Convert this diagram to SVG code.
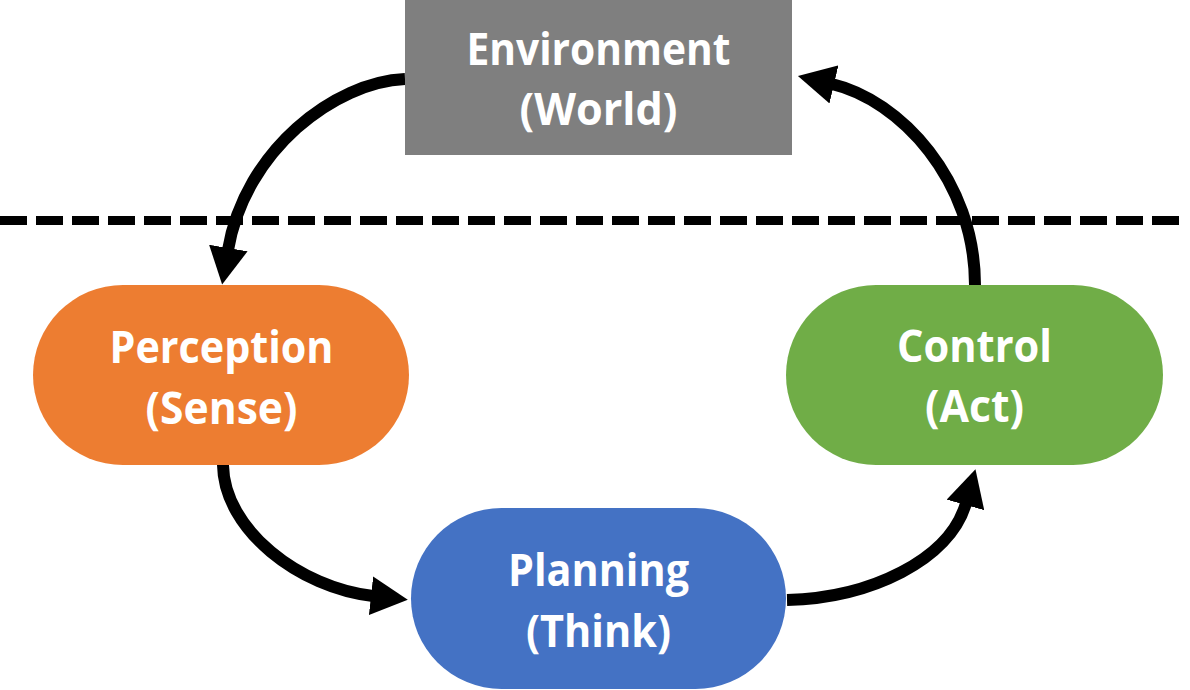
<svg xmlns="http://www.w3.org/2000/svg" width="1190" height="690" viewBox="0 0 1190 690">
<defs>
<style>
.lbl{font-family:"Open Sans","Liberation Sans",sans-serif;font-weight:700;font-size:44px;fill:#FFFFFF;text-anchor:middle}
.conn{fill:none;stroke:#000000;stroke-width:12;marker-end:url(#ah)}
</style>
<marker id="ah" markerUnits="userSpaceOnUse" viewBox="0 0 37 39" markerWidth="37" markerHeight="39" refX="2" refY="19.5" orient="auto">
<path d="M0,0 L37,19.5 L0,39 Z" fill="#000000"/>
</marker>
</defs>
<rect width="1190" height="690" fill="#FFFFFF"/>
<line id="divider" x1="0" y1="220.5" x2="1179" y2="220.5" stroke="#000000" stroke-width="9" stroke-dasharray="27 9"/>
<g id="connectors">
<path class="conn" d="M405,79 C335,82 245,150 228,250"/>
<path class="conn" d="M223,465 C224,530 300,588 373,596"/>
<path class="conn" d="M787,600 C870,598 950,560 966,503"/>
<path class="conn" d="M975,285 C975,180 900,100 832,84"/>
</g>
<g id="environment">
<rect x="405" y="0" width="387" height="155" fill="#7F7F7F"/>
<text class="lbl" x="598.5" y="65" textLength="264" lengthAdjust="spacingAndGlyphs">Environment</text>
<text class="lbl" x="598.5" y="125" textLength="158" lengthAdjust="spacingAndGlyphs">(World)</text>
</g>
<g id="perception">
<rect x="33" y="285" width="376" height="180" rx="90" ry="90" fill="#ED7D31"/>
<text class="lbl" x="221.5" y="363" textLength="224" lengthAdjust="spacingAndGlyphs">Perception</text>
<text class="lbl" x="221.5" y="424" textLength="152" lengthAdjust="spacingAndGlyphs">(Sense)</text>
</g>
<g id="planning">
<rect x="411" y="508" width="375" height="181" rx="90.5" ry="90.5" fill="#4472C4"/>
<text class="lbl" x="598.5" y="586" textLength="181" lengthAdjust="spacingAndGlyphs">Planning</text>
<text class="lbl" x="598.5" y="647" textLength="145" lengthAdjust="spacingAndGlyphs">(Think)</text>
</g>
<g id="control">
<rect x="786" y="285" width="377" height="180" rx="90" ry="90" fill="#70AD47"/>
<text class="lbl" x="974.5" y="362" textLength="155" lengthAdjust="spacingAndGlyphs">Control</text>
<text class="lbl" x="974.5" y="422" textLength="99" lengthAdjust="spacingAndGlyphs">(Act)</text>
</g>
</svg>
